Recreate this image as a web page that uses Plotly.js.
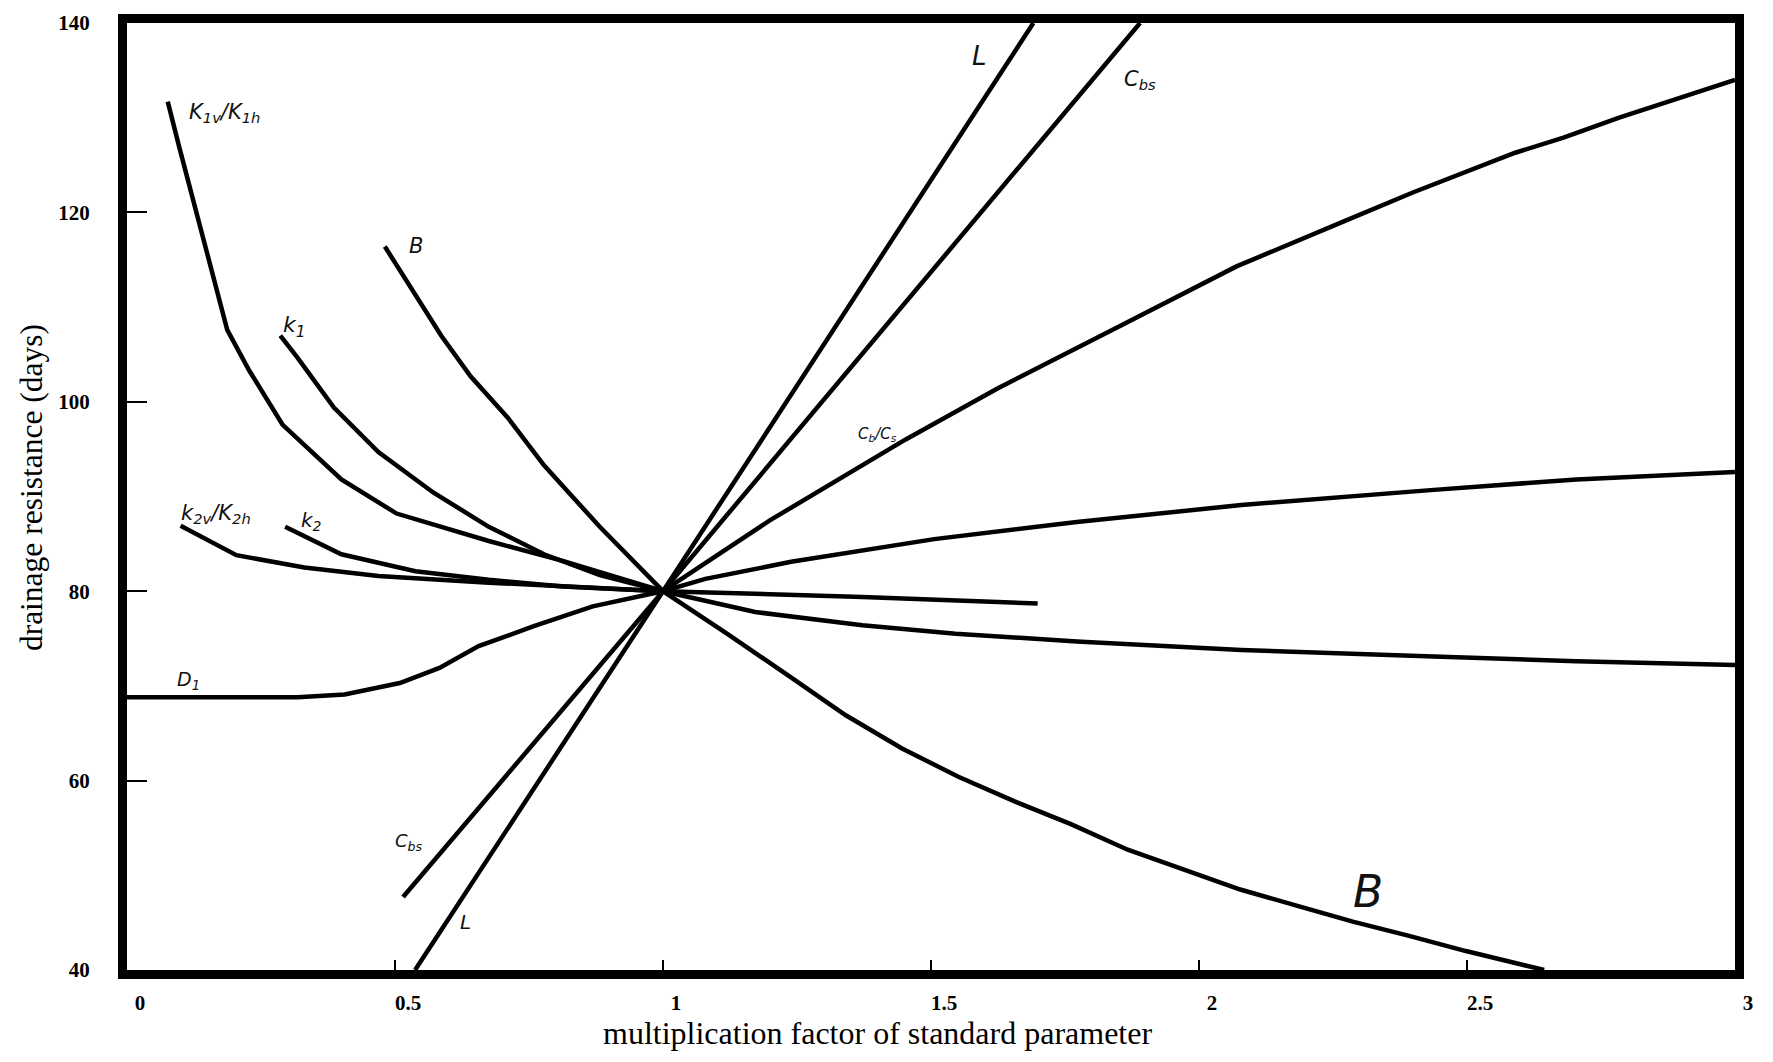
<!DOCTYPE html>
<html>
<head>
<meta charset="utf-8">
<script src="https://cdn.plot.ly/plotly-3.0.1.min.js"></script>
<style>html,body{margin:0;padding:0;background:#fff;}#chart{width:1773px;height:1062px;}</style>
</head>
<body>
<div id="chart"></div>
<script>
// ---- data (x = multiplication factor, y = drainage resistance in days) ----
const k1vk1hX = [0.076, 0.097, 0.187, 0.228, 0.290, 0.400, 0.503, 0.675, 0.813, 1.0];
const k1vk1hY = [131.7, 127.0, 107.6, 103.3, 97.6, 91.8, 88.2, 85.3, 83.2, 80.0];

const k1X = [0.286, 0.317, 0.386, 0.469, 0.572, 0.675, 0.778, 0.882, 1.0, 1.172, 1.372, 1.546, 1.772, 2.079, 2.438, 2.704, 3.0];
const k1Y = [107.0, 104.75, 99.4, 94.7, 90.4, 86.8, 83.9, 81.7, 80.0, 77.8, 76.4, 75.5, 74.7, 73.8, 73.1, 72.6, 72.2];

const bX = [0.481, 0.538, 0.586, 0.641, 0.710, 0.778, 0.882, 1.0, 1.12, 1.236, 1.341, 1.446, 1.551, 1.656, 1.761, 1.867, 1.971, 2.077, 2.182, 2.287, 2.392, 2.498, 2.644];
const bY = [116.4, 111.3, 107.0, 102.7, 98.35, 93.3, 86.8, 80.0, 75.5, 71.0, 66.9, 63.4, 60.4, 57.8, 55.4, 52.7, 50.6, 48.5, 46.8, 45.1, 43.6, 42.0, 40.0];

const k2X = [0.295, 0.400, 0.538, 0.675, 0.813, 1.0, 1.372, 1.699];
const k2Y = [86.8, 83.9, 82.1, 81.2, 80.5, 80.0, 79.4, 78.7];

const k2vk2hX = [0.100, 0.204, 0.331, 0.469, 0.675, 1.0];
const k2vk2hY = [86.9, 83.8, 82.5, 81.6, 80.9, 80.0];

const d1X = [0.0, 0.318, 0.406, 0.509, 0.583, 0.656, 0.759, 0.869, 1.0, 1.079, 1.239, 1.506, 1.772, 2.079, 2.438, 2.704, 3.0];
const d1Y = [68.8, 68.8, 69.1, 70.3, 71.9, 74.2, 76.3, 78.4, 80.0, 81.3, 83.1, 85.5, 87.3, 89.1, 90.7, 91.8, 92.6];

const cbcsX = [1.0, 1.2, 1.452, 1.624, 1.859, 2.07, 2.268, 2.399, 2.590, 2.680, 2.784, 2.960, 3.0];
const cbcsY = [80.0, 87.5, 96.0, 101.4, 108.2, 114.3, 119.0, 122.1, 126.3, 127.9, 130.0, 133.3, 134.0];

const lX = [0.5375, 1.0, 1.691];
const lY = [40.0, 80.0, 140.0];

const cbsX = [0.515, 1.0, 1.890];
const cbsY = [47.7, 80.0, 140.0];

// hand-written curve labels
const labelText = ["K<sub>1v</sub>/K<sub>1h</sub>", "B", "k<sub>1</sub>", "k<sub>2v</sub>/K<sub>2h</sub>", "k<sub>2</sub>", "D<sub>1</sub>",
                   "C<sub>bs</sub>", "L", "L", "C<sub>bs</sub>", "C<sub>b</sub>/C<sub>s</sub>", "B"];
const labelX = [0.182, 0.540, 0.313, 0.166, 0.345, 0.115, 0.527, 0.631, 1.591, 1.890, 1.400, 2.316];
const labelY = [130.5, 116.4, 108.0, 88.2, 87.4, 70.6, 53.5, 45.1, 136.5, 134.0, 96.5, 48.3];
const labelSize = [21, 21, 22, 21, 20, 19, 18, 20, 26, 21, 15, 44];

const xTicks = [0, 0.5, 1, 1.5, 2, 2.5, 3];
const xTickText = ["0", "0.5", "1", "1.5", "2", "2.5", "3"];
const yTicks = [40, 60, 80, 100, 120, 140];
const yTickText = ["40", "60", "80", "100", "120", "140"];

const xTitle = "multiplication factor of standard parameter";
const yTitle = "drainage resistance (days)";

// ---- build traces ----
const series = [
  ["K1v/K1h", k1vk1hX, k1vk1hY],
  ["k1", k1X, k1Y],
  ["B", bX, bY],
  ["k2", k2X, k2Y],
  ["k2v/k2h", k2vk2hX, k2vk2hY],
  ["D1", d1X, d1Y],
  ["Cb/Cs", cbcsX, cbcsY],
  ["L", lX, lY],
  ["Cbs", cbsX, cbsY]
];
const traces = series.map(s => ({
  type: "scatter", mode: "lines", name: s[0], x: s[1], y: s[2],
  line: {color: "#000", width: 4.5, shape: "linear"}, hoverinfo: "skip", cliponaxis: true
}));

const handFont = "DejaVu Sans, sans-serif";
const annotations = labelText.map((t, i) => ({
  x: labelX[i], y: labelY[i], xref: "x", yref: "y", text: t, showarrow: false,
  font: {family: handFont, size: labelSize[i], color: "#111", style: "italic"}
}));
annotations.push({
  xref: "paper", yref: "paper", x: 0.4665, y: -0.0665, xanchor: "center", yanchor: "middle",
  text: xTitle, showarrow: false,
  font: {family: "Liberation Serif", size: 32, color: "#000"}
});
annotations.push({
  xref: "paper", yref: "paper", x: -0.059, y: 0.509, xanchor: "center", yanchor: "middle",
  text: yTitle, textangle: -90, showarrow: false,
  font: {family: "Liberation Serif", size: 31.5, color: "#000"}
});

const layout = {
  width: 1773, height: 1062,
  margin: {l: 127, r: 38, t: 23, b: 92, pad: 0},
  paper_bgcolor: "#fff", plot_bgcolor: "#fff",
  showlegend: false,
  xaxis: {
    range: [0, 3], tickvals: xTicks, ticktext: xTickText,
    ticks: "inside", ticklen: 10, tickwidth: 2, tickcolor: "#000",
    showline: true, linewidth: 9, linecolor: "#000", mirror: true,
    showgrid: false, zeroline: false, ticklabelstandoff: 6, ticklabelshift: 13,
    tickfont: {family: "Liberation Serif", size: 21, color: "#000", weight: "bold"}
  },
  yaxis: {
    range: [40, 140], tickvals: yTicks, ticktext: yTickText,
    ticks: "inside", ticklen: 20, tickwidth: 2, tickcolor: "#000",
    showline: true, linewidth: 9, linecolor: "#000", mirror: true,
    showgrid: false, zeroline: false, ticklabelstandoff: 24,
    tickfont: {family: "Liberation Serif", size: 21, color: "#000", weight: "bold"}
  },
  annotations: annotations
};

Plotly.newPlot("chart", traces, layout, {displayModeBar: false, staticPlot: true});
</script>
</body>
</html>
